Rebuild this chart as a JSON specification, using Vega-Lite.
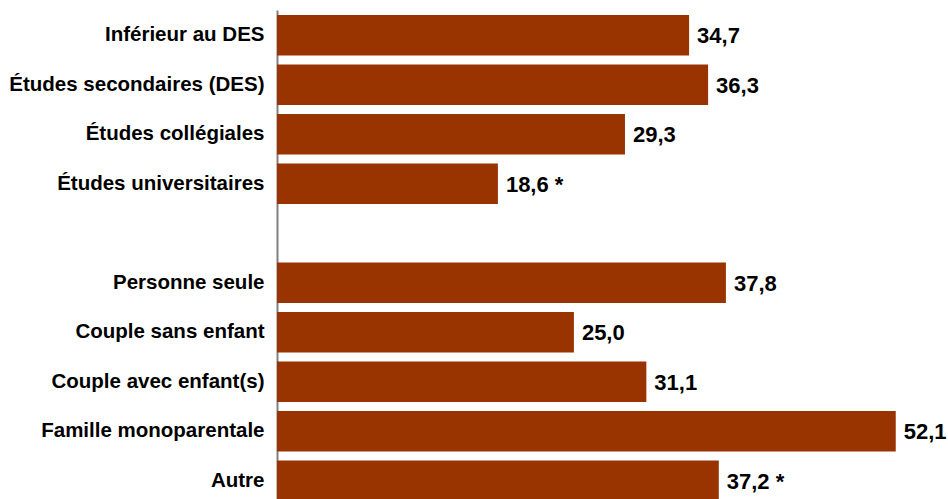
{
  "$schema": "https://vega.github.io/schema/vega-lite/v6.json",
  "autosize": {"type": "none"},
  "padding": {"left": 277, "top": 10, "right": 0, "bottom": 0},
  "width": 671,
  "height": 496,
  "background": "white",
  "data": {
    "values": [
      {"categorie": "Inférieur au DES", "valeur": 34.7, "etiquette": "34,7"},
      {"categorie": "Études secondaires (DES)", "valeur": 36.3, "etiquette": "36,3"},
      {"categorie": "Études collégiales", "valeur": 29.3, "etiquette": "29,3"},
      {"categorie": "Études universitaires", "valeur": 18.6, "etiquette": "18,6 *"},
      {"categorie": "Personne seule", "valeur": 37.8, "etiquette": "37,8"},
      {"categorie": "Couple sans enfant", "valeur": 25.0, "etiquette": "25,0"},
      {"categorie": "Couple avec enfant(s)", "valeur": 31.1, "etiquette": "31,1"},
      {"categorie": "Famille monoparentale", "valeur": 52.1, "etiquette": "52,1"},
      {"categorie": "Autre", "valeur": 37.2, "etiquette": "37,2 *"}
    ]
  },
  "encoding": {
    "y": {
      "field": "categorie",
      "type": "nominal",
      "scale": {
        "domain": ["Inférieur au DES", "Études secondaires (DES)", "Études collégiales", "Études universitaires", " ", "Personne seule", "Couple sans enfant", "Couple avec enfant(s)", "Famille monoparentale", "Autre"],
        "paddingInner": 0.18,
        "paddingOuter": 0.1
      },
      "axis": {
        "title": null,
        "ticks": false,
        "domainColor": "#808080",
        "domainWidth": 2,
        "labelFont": "Liberation Sans",
        "labelFontWeight": "bold",
        "labelFontSize": 20.5,
        "labelColor": "#000000",
        "labelPadding": 13,
        "labelLimit": 400
      }
    },
    "x": {
      "field": "valeur",
      "type": "quantitative",
      "scale": {"domain": [0, 56.5], "nice": false, "zero": true},
      "axis": null
    }
  },
  "layer": [
    {
      "mark": {"type": "bar", "color": "#993300"}
    },
    {
      "mark": {
        "type": "text",
        "align": "left",
        "baseline": "middle",
        "dx": 8,
        "dy": 1,
        "font": "Liberation Sans",
        "fontWeight": "bold",
        "fontSize": 22,
        "color": "#000000"
      },
      "encoding": {"text": {"field": "etiquette"}}
    }
  ],
  "config": {"view": {"stroke": null}}
}
